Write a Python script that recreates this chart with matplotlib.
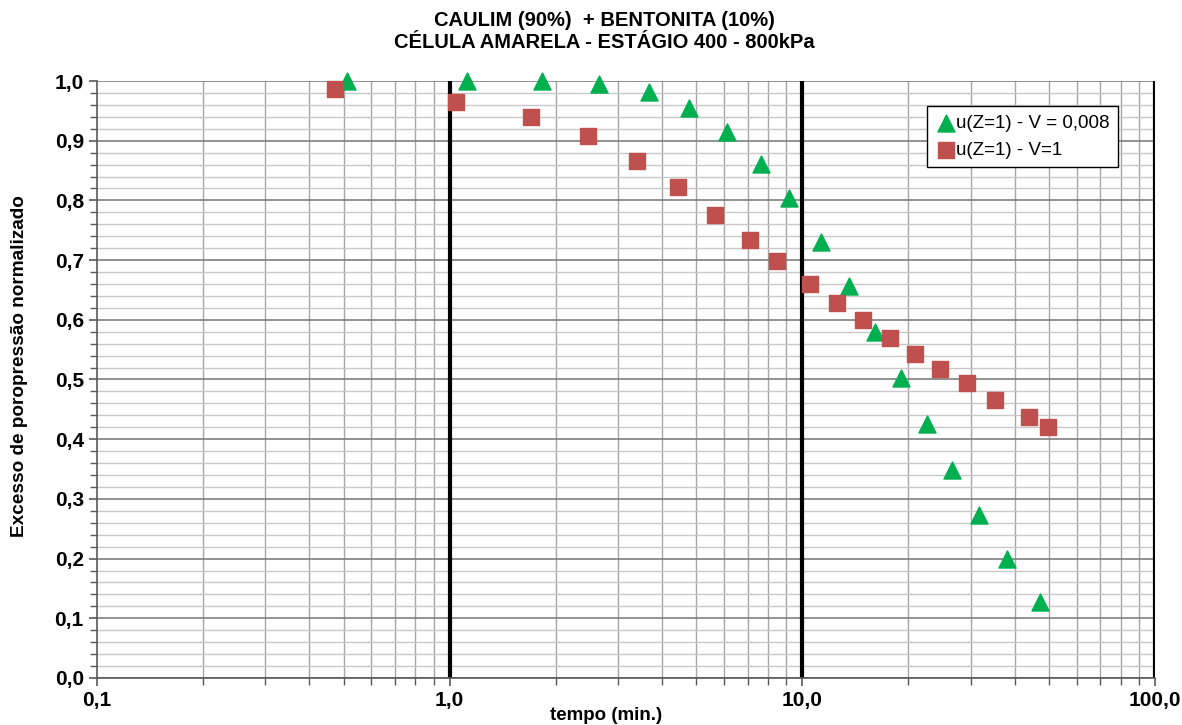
import matplotlib.pyplot as plt
from matplotlib.ticker import FixedLocator, FuncFormatter, LogLocator, MultipleLocator

plt.rcParams['font.family'] = ['Liberation Sans', 'DejaVu Sans']

# u(Z=1) - V = 0,008 (triangulos verdes)
t_v008 = [0.51, 1.12, 1.83, 2.65, 3.67, 4.77, 6.11, 7.63, 9.16, 11.3,
          13.6, 16.1, 19.0, 22.6, 26.6, 31.7, 38.0, 47.2]
u_v008 = [1.0, 1.0, 1.0, 0.995, 0.982, 0.955, 0.915, 0.861, 0.804, 0.730,
          0.657, 0.580, 0.503, 0.425, 0.348, 0.273, 0.199, 0.127]

# u(Z=1) - V = 1 (quadrados vermelhos)
t_v1 = [0.473, 1.04, 1.70, 2.47, 3.40, 4.44, 5.65, 7.10, 8.47, 10.5,
        12.5, 14.9, 17.7, 20.9, 24.5, 29.3, 35.2, 43.9, 49.7]
u_v1 = [0.987, 0.965, 0.940, 0.908, 0.866, 0.822, 0.776, 0.734, 0.698, 0.660,
        0.628, 0.600, 0.570, 0.543, 0.518, 0.494, 0.466, 0.437, 0.420]

fig = plt.figure(figsize=(11.82, 7.25), dpi=100)
ax = fig.add_axes([97 / 1182, 1 - 678 / 725, (1155 - 97) / 1182, (678 - 81) / 725])

ax.set_xscale('log')
ax.set_xlim(0.1, 100)
ax.set_ylim(0, 1.0)

# grelha
ax.yaxis.set_major_locator(MultipleLocator(0.1))
ax.yaxis.set_minor_locator(MultipleLocator(0.02))
ax.xaxis.set_major_locator(FixedLocator([0.1, 1, 10, 100]))
ax.xaxis.set_minor_locator(LogLocator(base=10, subs=range(2, 10)))
ax.grid(which='major', axis='y', color='#7f7f7f', lw=1.2)
ax.grid(which='minor', axis='y', color='#c8c8c8', lw=1.0)
ax.grid(which='minor', axis='x', color='#a6a6a6', lw=1.0)
for xv in [1, 10, 100]:
    ax.axvline(xv, color='black', lw=3, zorder=1.5)
ax.set_axisbelow(True)

for s in ['top', 'right']:
    ax.spines[s].set_visible(False)
ax.spines['left'].set_color('#595959')
ax.spines['bottom'].set_color('#595959')
ax.spines['left'].set_linewidth(1.2)
ax.spines['bottom'].set_linewidth(1.2)

ax.tick_params(which='both', direction='out', colors='#595959',
               labelcolor='black', labelsize=15)
ax.tick_params(which='major', length=6, width=1.2)
ax.tick_params(which='minor', length=5, width=1.0)
ax.xaxis.set_minor_formatter(FuncFormatter(lambda v, p: ''))
ax.xaxis.set_major_formatter(FuncFormatter(lambda v, p: f'{v:.1f}'.replace('.', ',')))
ax.yaxis.set_major_formatter(FuncFormatter(lambda v, p: f'{v:.1f}'.replace('.', ',')))
for lab in ax.get_xticklabels() + ax.get_yticklabels():
    lab.set_fontweight('bold')

ax.scatter(t_v008, u_v008, marker='^', s=150, color='#00b050', zorder=3,
           clip_on=False, label='u(Z=1) - V = 0,008')
ax.scatter(t_v1, u_v1, marker='s', s=130, color='#c0504d', zorder=3,
           clip_on=False, label='u(Z=1) - V=1')

leg = ax.legend(loc='upper left', bbox_to_anchor=((927 - 97) / 1058, (678 - 106) / 597),
                fontsize=13.5, frameon=True, fancybox=False, framealpha=1,
                handletextpad=0.0, borderpad=0.45, labelspacing=0.55,
                handlelength=1.1, borderaxespad=0)
leg.get_frame().set_edgecolor('black')
leg.get_frame().set_linewidth(1.0)

ax.set_ylabel('Excesso de poropressão normalizado', fontsize=13.7, fontweight='bold')
ax.yaxis.set_label_coords((28 - 97) / 1058, (678 - 366) / 597)
fig.text(606 / 1182, 1 - 715 / 725, 'tempo (min.)', ha='center', va='center',
         fontsize=13.5, fontweight='bold')

fig.text(604 / 1182, 1 - 20 / 725, 'CAULIM (90%)  + BENTONITA (10%)', ha='center', va='center',
         fontsize=14.5, fontweight='bold')
fig.text(604 / 1182, 1 - 42 / 725, 'CÉLULA AMARELA - ESTÁGIO 400 - 800kPa', ha='center', va='center',
         fontsize=14.5, fontweight='bold')

fig.savefig('out.png', dpi=100)
